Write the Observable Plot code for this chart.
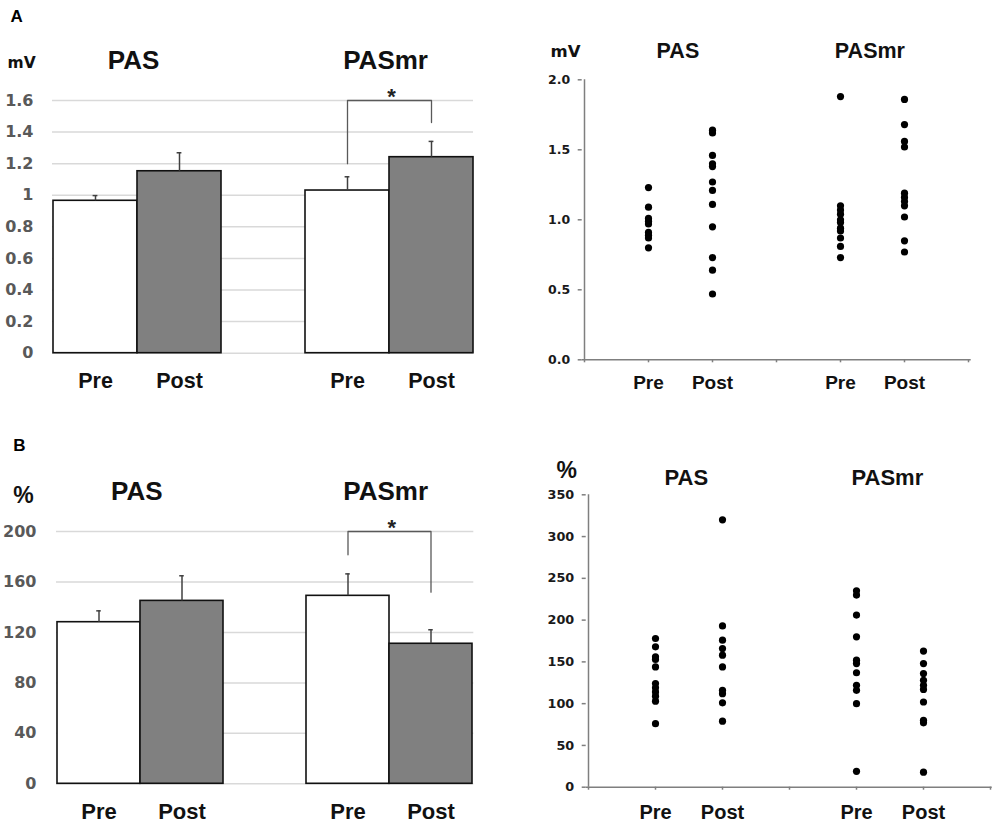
<!DOCTYPE html>
<html><head><meta charset="utf-8">
<script src="https://cdn.jsdelivr.net/npm/d3@7"></script>
<script src="https://cdn.jsdelivr.net/npm/@observablehq/plot@0.6"></script>
<style>
body{margin:0;background:#fff;}
#fig{position:relative;width:1000px;height:826px;overflow:hidden;background:#fff;}
.panel{position:absolute;}
</style></head><body><div id="fig"></div>
<script>
// ---------- data ----------
const groups = ["PAS", "PASmr"];
const phases = ["Pre", "Post"];

// A (left): MEP amplitude, mean and SE  [PAS Pre, PAS Post, PASmr Pre, PASmr Post]
const ampMean = [0.965, 1.152, 1.030, 1.241];
const ampSE   = [0.033, 0.117, 0.087, 0.100];
const ampTicks = [0, 0.2, 0.4, 0.6, 0.8, 1, 1.2, 1.4, 1.6];
const ampBracket = [1.20, 1.60, 1.46]; // left leg end, bar, right leg end

// B (left): percentage, mean and SE
const pctMean = [128.1, 145.0, 149.0, 111.0];
const pctSE   = [9.0, 19.9, 17.4, 11.1];
const pctTicks = [0, 40, 80, 120, 160, 200];
const pctBracket = [181.5, 200, 151.9];

// A (right): individual amplitudes (mV)
const ampPasPre    = [1.23, 1.09, 1.01, 0.99, 0.97, 0.91, 0.89, 0.87, 0.80];
const ampPasPost   = [1.64, 1.62, 1.46, 1.40, 1.38, 1.27, 1.21, 1.11, 0.95, 0.73, 0.64, 0.47];
const ampPasmrPre  = [1.88, 1.10, 1.07, 1.04, 1.00, 0.98, 0.94, 0.92, 0.87, 0.81, 0.73];
const ampPasmrPost = [1.86, 1.68, 1.56, 1.52, 1.19, 1.16, 1.13, 1.10, 1.02, 0.85, 0.77];
const ampDotTicks = [0, 0.5, 1.0, 1.5, 2.0];

// B (right): individual percentages
const pctPasPre    = [178, 168, 156, 153, 144, 124, 119, 114, 109, 103, 76];
const pctPasPost   = [320, 193, 176, 166, 158, 144, 116, 112, 101, 79];
const pctPasmrPre  = [235, 230, 206, 180, 152, 148, 137, 122, 116, 100, 19];
const pctPasmrPost = [163, 148, 136, 128, 122, 117, 102, 80, 77, 18];
const pctDotTicks = [0, 50, 100, 150, 200, 250, 300, 350];

// ---------- helpers ----------
const SANS = "'Liberation Sans', Arial, sans-serif";
const DEJA = "'DejaVu Sans', sans-serif";
const barSlots = [groups[0] + "|Pre", groups[0] + "|Post", "gap", groups[1] + "|Pre", groups[1] + "|Post"];
const dotSlots = ["s0", groups[0] + "|Pre", groups[0] + "|Post", "s3", groups[1] + "|Pre", groups[1] + "|Post", "s6"];
const phaseOf = k => (k.split("|")[1] ?? "");

function barRows(means, ses) {
  return groups.flatMap((g, gi) => phases.map((p, pi) => ({
    key: g + "|" + p, phase: p, mean: means[gi * 2 + pi], se: ses[gi * 2 + pi]
  })));
}

function barPanel(c) {
  const rows = barRows(c.means, c.ses);
  const bw = (c.width - c.ml - c.mr) / barSlots.length;
  const br = c.bracket;
  const pre = groups[1] + "|Pre", post = groups[1] + "|Post";
  const bracketPts = [{x: pre, y: br[0]}, {x: pre, y: br[1]}, {x: post, y: br[1]}, {x: post, y: br[2]}];
  return Plot.plot({
    width: c.width, height: c.height,
    marginLeft: c.ml, marginRight: c.mr, marginTop: c.mt, marginBottom: c.mb,
    style: {background: "transparent", overflow: "visible", fontFamily: SANS},
    x: {type: "band", domain: barSlots, padding: 0},
    y: {domain: c.yDomain},
    color: {type: "identity"},
    marks: [
      Plot.gridY({ticks: c.ticks, stroke: "#d9d9d9", strokeOpacity: 1, strokeWidth: 1.5}),
      Plot.axisY({ticks: c.ticks, tickSize: 0, tickPadding: c.yPad, tickFormat: d => String(d),
        fontSize: 16, fontWeight: "bold", fontFamily: DEJA, fill: "#595959", label: null}),
      Plot.axisX({tickSize: 0, tickPadding: c.xPad, tickFormat: phaseOf,
        fontSize: c.xFont, fontWeight: "bold", fontFamily: SANS, fill: "#111", label: null}),
      Plot.barY(rows, {x: "key", y: "mean", fill: d => d.phase === "Pre" ? "#ffffff" : "#808080",
        stroke: "#111", strokeWidth: 1.6}),
      Plot.ruleX(rows, {x: "key", y1: "mean", y2: d => d.mean + d.se, stroke: "#404040", strokeWidth: 1.5}),
      Plot.tickY(rows, {x: "key", y: d => d.mean + d.se, stroke: "#404040", strokeWidth: 1.5, inset: (bw - 5) / 2}),
      Plot.line(bracketPts, {x: "x", y: "y", stroke: "#595959", strokeWidth: 1.3}),
      Plot.text([{x: pre, y: br[1]}], {x: "x", y: "y", text: () => "*", dx: bw / 2 + 2, dy: 3,
        lineAnchor: "bottom", fontSize: 22, fontWeight: "bold", fill: "#222"}),
      Plot.text(groups, {x: g => g + "|Pre", text: g => g, frameAnchor: "top", dx: bw / 2 - 4, dy: c.titleDy,
        lineAnchor: "bottom", fontSize: 26, fontWeight: "bold", fill: "#111"}),
      Plot.text([c.unit], {text: d => d, frameAnchor: "top-left", dx: c.unitDx, dy: c.unitDy,
        textAnchor: "start", lineAnchor: "bottom", fontSize: c.unitFont, fontWeight: "bold",
        fontFamily: c.unitFamily, fill: "#111"}),
      Plot.text([c.letter], {text: d => d, frameAnchor: "top-left", dx: c.letterDx, dy: c.letterDy,
        textAnchor: "start", lineAnchor: "bottom", fontSize: 17, fontWeight: "bold", fill: "#000"})
    ]
  });
}

function dotPanel(c) {
  const rows = [];
  groups.forEach((g, gi) => phases.forEach((p, pi) =>
    c.series[gi * 2 + pi].forEach(v => rows.push({key: g + "|" + p, value: v}))));
  const step = (c.width - c.ml - c.mr) / (dotSlots.length - 1);
  return Plot.plot({
    width: c.width, height: c.height,
    marginLeft: c.ml, marginRight: c.mr, marginTop: c.mt, marginBottom: c.mb,
    style: {background: "transparent", overflow: "visible", fontFamily: SANS},
    x: {type: "point", domain: dotSlots, padding: 0},
    y: {domain: c.yDomain},
    marks: [
      Plot.ruleY([c.yDomain[0]], {stroke: "#7f7f7f", strokeWidth: 1.5}),
      Plot.ruleX([dotSlots[0]], {stroke: "#7f7f7f", strokeWidth: 1.5}),
      Plot.axisY({ticks: c.ticks, tickSize: 4, tickPadding: 8, tickFormat: c.tickFormat,
        stroke: "#7f7f7f", strokeWidth: 1.5, fill: "#1a1a1a",
        fontSize: c.yFont, fontWeight: "bold", fontFamily: DEJA, label: null}),
      Plot.axisX({tickSize: 3, tickPadding: c.xPad, tickFormat: phaseOf,
        stroke: "#7f7f7f", strokeWidth: 1.5, fill: "#111",
        fontSize: c.xFont, fontWeight: "bold", fontFamily: SANS, label: null}),
      Plot.dot(rows, {x: "key", y: "value", r: 3.6, fill: "#000"}),
      Plot.text(groups, {x: g => g + "|Pre", text: g => g, frameAnchor: "top", dx: step / 2 - 3, dy: c.titleDy,
        lineAnchor: "bottom", fontSize: c.titleFont, fontWeight: "bold", fill: "#111"}),
      Plot.text([c.unit], {text: d => d, frameAnchor: "top-left", dx: c.unitDx, dy: c.unitDy,
        textAnchor: "start", lineAnchor: "bottom", fontSize: c.unitFont, fontWeight: "bold",
        fontFamily: c.unitFamily, fill: "#111"})
    ]
  });
}

function place(node, left, top) {
  const d = document.createElement("div");
  d.className = "panel";
  d.style.left = left + "px";
  d.style.top = top + "px";
  d.appendChild(node);
  document.getElementById("fig").appendChild(d);
}

// ---------- panels ----------
place(barPanel({
  width: 500, height: 413, ml: 52, mr: 27, mt: 100, mb: 60.3,
  means: ampMean, ses: ampSE, ticks: ampTicks, yDomain: [0, 1.6], bracket: ampBracket,
  yPad: 19, xPad: 20, xFont: 21.5, titleDy: -31.7,
  unit: "mV", unitDx: -45, unitDy: -33, unitFont: 15.5, unitFamily: DEJA,
  letter: "A", letterDx: -42, letterDy: -78.3
}), 0, 0);

place(dotPanel({
  width: 500, height: 413, ml: 81.7, mr: 29.3, mt: 79.3, mb: 53.7,
  series: [ampPasPre, ampPasPost, ampPasmrPre, ampPasmrPost],
  ticks: ampDotTicks, yDomain: [0, 2], tickFormat: d3.format(".1f"), yFont: 12.5,
  xPad: 12.5, xFont: 19, titleDy: -22, titleFont: 21.5,
  unit: "mV", unitDx: -31.7, unitDy: -23.3, unitFont: 16.5, unitFamily: DEJA
}), 500, 0);

place(barPanel({
  width: 500, height: 413, ml: 56, mr: 26.7, mt: 118, mb: 42.7,
  means: pctMean, ses: pctSE, ticks: pctTicks, yDomain: [0, 200], bracket: pctBracket,
  yPad: 20, xPad: 20, xFont: 22, titleDy: -31.7,
  unit: "%", unitDx: -43.3, unitDy: -29, unitFont: 23, unitFamily: SANS,
  letter: "B", letterDx: -43.3, letterDy: -81
}), 0, 413);

place(dotPanel({
  width: 500, height: 413, ml: 85.7, mr: 8.3, mt: 81.3, mb: 39.3,
  series: [pctPasPre, pctPasPost, pctPasmrPre, pctPasmrPost],
  ticks: pctDotTicks, yDomain: [0, 350], tickFormat: d => String(d), yFont: 12.8,
  xPad: 14.4, xFont: 20, titleDy: -10.3, titleFont: 22,
  unit: "%", unitDx: -29.7, unitDy: -17, unitFont: 23, unitFamily: SANS
}), 500, 413);
</script>
</body></html>
